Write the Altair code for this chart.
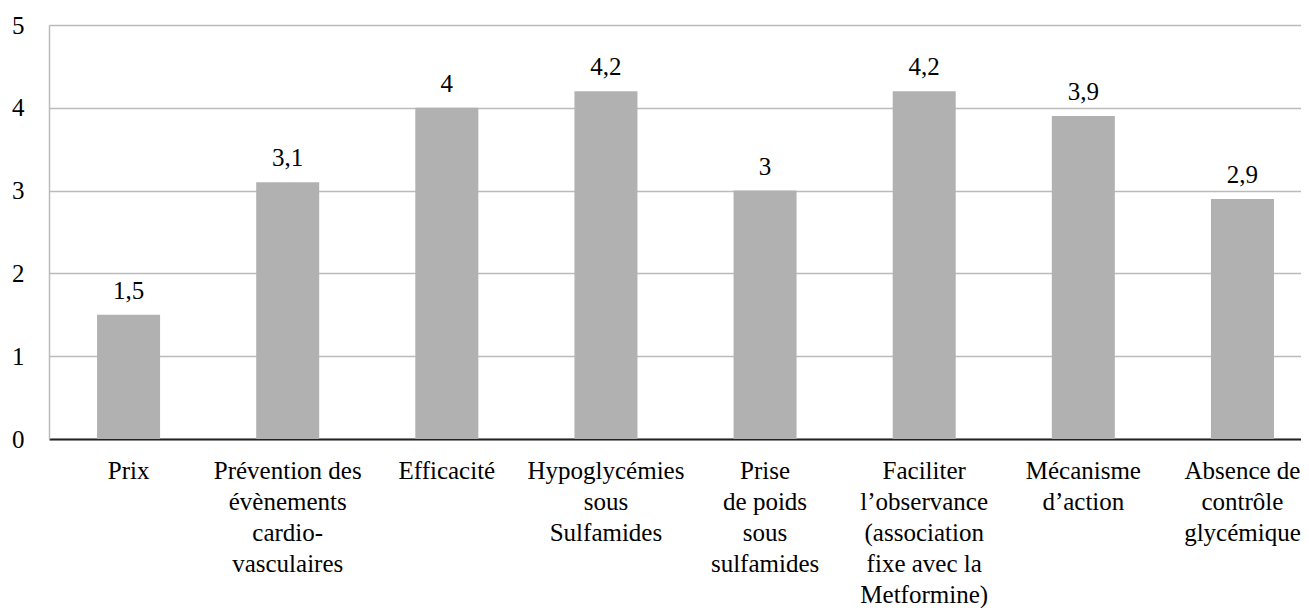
import altair as alt
import pandas as pd

categories = [
    "Prix",
    "Prévention des\névènements\ncardio-\nvasculaires",
    "Efficacité",
    "Hypoglycémies\nsous\nSulfamides",
    "Prise\nde poids\nsous\nsulfamides",
    "Faciliter\nl’observance\n(association\nfixe avec la\nMetformine)",
    "Mécanisme\nd’action",
    "Absence de\ncontrôle\nglycémique",
]
values = [1.5, 3.1, 4.0, 4.2, 3.0, 4.2, 3.9, 2.9]
value_labels = ["1,5", "3,1", "4", "4,2", "3", "4,2", "3,9", "2,9"]
y_ticks = [0, 1, 2, 3, 4, 5]

df = pd.DataFrame({"cat": categories, "val": values, "lab": value_labels})

FONT = "Liberation Serif, Times New Roman, serif"
FS = 25

x = alt.X(
    "cat:N",
    sort=None,
    title=None,
    scale=alt.Scale(paddingInner=0.604, paddingOuter=0.236, align=0.64),
    axis=alt.Axis(
        labelAngle=0,
        labelExpr="split(datum.label, '\\n')",
        labelFont=FONT,
        labelFontSize=FS,
        labelColor="#000000",
        labelLineHeight=31,
        labelPadding=19,
        labelLimit=300,
        ticks=False,
        domainColor="#222222",
        domainWidth=2,
        grid=False,
    ),
)
y = alt.Y(
    "val:Q",
    title=None,
    scale=alt.Scale(domain=[0, 5], nice=False),
    axis=alt.Axis(
        values=y_ticks,
        format="d",
        labelFont=FONT,
        labelFontSize=FS,
        labelColor="#000000",
        labelPadding=25,
        ticks=False,
        domainColor="#BBBBBB",
        domainWidth=1.5,
        gridColor="#BBBBBB",
        gridWidth=1.5,
    ),
)

bars = alt.Chart(df).mark_bar(color="#B1B1B1").encode(x=x, y=y)
texts = alt.Chart(df).mark_text(
    font=FONT, fontSize=FS, color="#000000", baseline="alphabetic", dy=-16
).encode(x=alt.X("cat:N", sort=None), y=alt.Y("val:Q"), text="lab:N")

chart = (
    alt.layer(bars, texts)
    .properties(
        width=1252,
        height=414,
        autosize=alt.AutoSizeParams(type="none"),
        padding={"left": 41, "top": 17, "right": 0, "bottom": 169},
    )
    .configure_view(stroke=None)
    .configure(background="white")
)

chart.save("out.html", embed_options={"renderer": "svg", "actions": False})
